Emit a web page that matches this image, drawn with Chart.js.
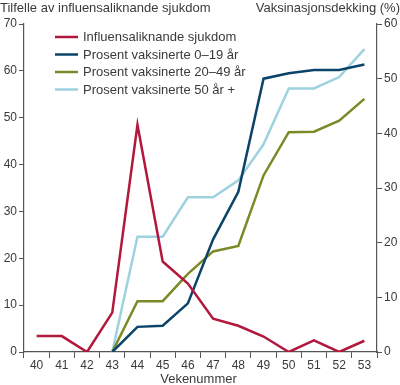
<!DOCTYPE html>
<html><head><meta charset="utf-8">
<script src="https://cdn.jsdelivr.net/npm/chart.js@4/dist/chart.umd.min.js"></script>
<style>html,body{margin:0;padding:0;background:#fff}#wrap{width:400px;height:385px;position:relative}</style>
</head><body><div id="wrap"><canvas id="c" width="400" height="385"></canvas></div>
<script>
const weeks = ['40','41','42','43','44','45','46','47','48','49','50','51','52','53'];
const ili = [3.4, 3.4, 0, 8.4, 48.5, 19.3, 14.6, 7.1, 5.6, 3.3, 0, 2.5, 0, 2.4];
const vacc0_19 = [null, null, null, 0, 4.6, 4.8, 8.9, 20.6, 29.3, 50.0, 51.0, 51.6, 51.6, 52.6];
const vacc20_49 = [null, null, null, 0, 9.3, 9.3, 14.3, 18.4, 19.4, 32.3, 40.2, 40.3, 42.3, 46.3];
const vacc50 = [null, null, null, 0, 21.1, 21.1, 28.3, 28.3, 31.4, 38.0, 48.2, 48.2, 50.3, 55.4];
const leftTicks = [0,10,20,30,40,50,60,70];
const rightTicks = [0,10,20,30,40,50,60];
const labels = ['Influensaliknande sjukdom','Prosent vaksinerte 0–19 år','Prosent vaksinerte 20–49 år','Prosent vaksinerte 50 år +'];
const colors = ['#b2173d','#0b4468','#7b8a26','#9ed2df'];
const FONT = '"Liberation Sans", Arial, sans-serif';
const TXT = '#3a3a3a';
const AX = '#555555';

const overlay = {
  id:'overlay',
  afterDraw(chart){
    const ctx = chart.ctx;
    ctx.save();
    ctx.font = '13px ' + FONT;
    ctx.fillStyle = TXT;
    ctx.textBaseline = 'middle';
    ctx.textAlign = 'left';
    ctx.fillText('Tilfelle av influensaliknande sjukdom', 0, 8);
    ctx.textAlign = 'right';
    ctx.fillText('Vaksinasjonsdekking (%)', 400, 8);
    ctx.textAlign = 'center';
    const ca = chart.chartArea;
    ctx.fillText('Vekenummer', (ca.left + ca.right) / 2 - 2, 379);
    ctx.textAlign = 'left';
    chart.data.datasets.forEach((ds,i)=>{
      const y = 37 + i*17.5;
      ctx.strokeStyle = ds.borderColor;
      ctx.lineWidth = 2.5;
      ctx.beginPath(); ctx.moveTo(55,y); ctx.lineTo(78,y); ctx.stroke();
      ctx.fillStyle = TXT;
      ctx.fillText(ds.label, 83, y+0.5);
    });
    ctx.restore();
  }
};

new Chart(document.getElementById('c'), {
  type:'line',
  data:{ labels: weeks, datasets:[
    {label:labels[0], data:ili, yAxisID:'yL', borderColor:colors[0]},
    {label:labels[1], data:vacc0_19, yAxisID:'yR', borderColor:colors[1]},
    {label:labels[2], data:vacc20_49, yAxisID:'yR', borderColor:colors[2]},
    {label:labels[3], data:vacc50, yAxisID:'yR', borderColor:colors[3]}
  ]},
  options:{
    responsive:false, animation:false,
    layout:{padding:{top:24,left:0,right:0,bottom:0}},
    elements:{point:{radius:0}, line:{borderWidth:2.5, tension:0, borderJoinStyle:'miter'}},
    plugins:{legend:{display:false}, tooltip:{enabled:false}},
    scales:{
      x:{
        offset:true,
        grid:{offset:true, drawOnChartArea:false, drawTicks:true, tickLength:6, color:AX},
        border:{display:true, color:AX, width:1.2},
        ticks:{color:TXT, font:{family:FONT,size:12}, padding:0, maxRotation:0, autoSkip:false},
        afterFit(s){ s.height = 33; }
      },
      yL:{
        position:'left', min:0, max:70,
        afterBuildTicks(s){ s.ticks = leftTicks.map(v=>({value:v})); },
        grid:{drawOnChartArea:false, drawTicks:true, tickLength:5, color:AX},
        border:{display:true, color:AX, width:1.2},
        ticks:{color:TXT, font:{family:FONT,size:12}, padding:2},
        afterFit(s){ s.width = 24; }
      },
      yR:{
        position:'right', min:0, max:60,
        afterBuildTicks(s){ s.ticks = rightTicks.map(v=>({value:v})); },
        grid:{drawOnChartArea:false, drawTicks:true, tickLength:5, color:AX},
        border:{display:true, color:AX, width:1.2},
        ticks:{color:TXT, font:{family:FONT,size:12}, padding:2},
        afterFit(s){ s.width = 23; }
      }
    }
  },
  plugins:[overlay]
});
</script></body></html>
